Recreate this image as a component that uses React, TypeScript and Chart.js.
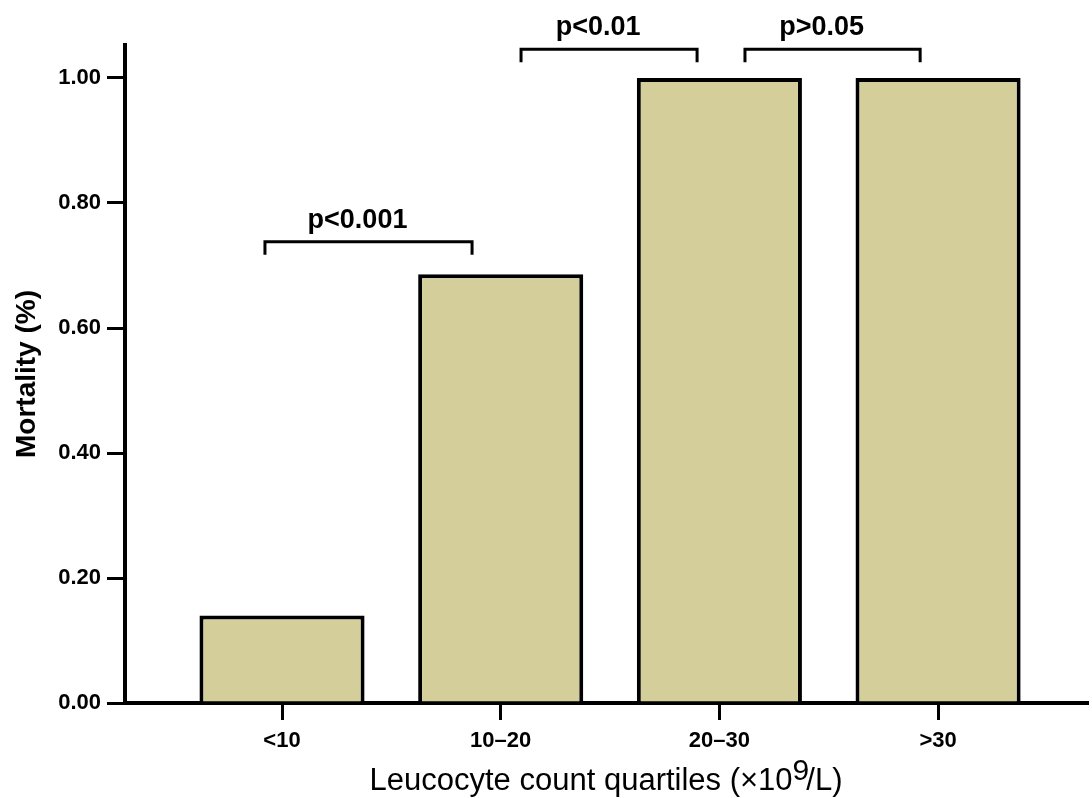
import React, { useEffect, useRef } from "react";
import { Chart, registerables } from "chart.js";

Chart.register(...registerables);

const categories = ["<10", "10–20", "20–30", ">30"];
const mortality = [0.14, 0.686, 1.0, 1.0];
const yTicks = [0, 0.2, 0.4, 0.6, 0.8, 1.0];

const bracketLabels = ["p<0.001", "p<0.01", "p>0.05"];
const bracketStart = [0.922, 2.093, 3.117];
const bracketEnd = [1.869, 2.898, 3.918];
const bracketLevel = [0.738, 1.046, 1.046];

const xTitleMain = "Leucocyte count quartiles (×10";
const xTitleSup = "9";
const xTitleEnd = "/L)";

const FONT = "'Liberation Sans', Arial, Helvetica, sans-serif";

const bracketPlugin = {
  id: "brackets",
  afterDatasetsDraw(chart: any) {
    const { ctx } = chart;
    const x = chart.scales.x;
    const y = chart.scales.y;
    ctx.save();
    ctx.strokeStyle = "#000";
    ctx.fillStyle = "#000";
    ctx.lineWidth = 3;
    ctx.lineJoin = "miter";
    ctx.font = `bold 27px ${FONT}`;
    ctx.textAlign = "center";
    ctx.textBaseline = "alphabetic";
    bracketLabels.forEach((label, i) => {
      const x1 = x.getPixelForValue(bracketStart[i]);
      const x2 = x.getPixelForValue(bracketEnd[i]);
      const yy = y.getPixelForValue(bracketLevel[i]);
      ctx.beginPath();
      ctx.moveTo(x1, yy + 13);
      ctx.lineTo(x1, yy);
      ctx.lineTo(x2, yy);
      ctx.lineTo(x2, yy + 13);
      ctx.stroke();
      ctx.fillText(label, (x1 + x2) / 2 - 11, yy - 14);
    });
    ctx.restore();
  },
};

const xTitlePlugin = {
  id: "xTitle",
  afterDraw(chart: any) {
    const { ctx, chartArea } = chart;
    ctx.save();
    ctx.fillStyle = "#000";
    ctx.textAlign = "left";
    ctx.textBaseline = "alphabetic";
    const mainFont = `31px ${FONT}`;
    const supFont = `30px ${FONT}`;
    ctx.font = mainFont;
    const w1 = ctx.measureText(xTitleMain).width;
    const w3 = ctx.measureText(xTitleEnd).width;
    ctx.font = supFont;
    const w2 = ctx.measureText(xTitleSup).width;
    const kern = -3;
    const total = w1 + w2 + w3 + kern;
    const cx = (chartArea.left + chartArea.right) / 2;
    let px = cx - total / 2;
    const baseY = 790;
    ctx.font = mainFont;
    ctx.fillText(xTitleMain, px, baseY);
    px += w1;
    ctx.font = supFont;
    ctx.fillText(xTitleSup, px, baseY - 10);
    px += w2 + kern;
    ctx.font = mainFont;
    ctx.fillText(xTitleEnd, px, baseY);
    ctx.restore();
  },
};

export default function App() {
  const ref = useRef<HTMLCanvasElement>(null);

  useEffect(() => {
    if (!ref.current) return;
    const chart = new Chart(ref.current, {
      type: "bar",
      data: {
        datasets: [
          {
            data: categories.map((_, i) => ({ x: i + 1, y: mortality[i] })),
            backgroundColor: "rgb(212, 207, 154)",
            borderColor: "#000",
            borderWidth: 4,
            barPercentage: 0.755,
            categoryPercentage: 1,
          },
        ],
      },
      options: {
        responsive: false,
        animation: false,
        layout: { padding: { top: 45, right: 5, left: 0, bottom: 0 } },
        plugins: {
          legend: { display: false },
          tooltip: { enabled: false },
        },
        scales: {
          x: {
            type: "linear",
            offset: false,
            min: 0.282,
            max: 4.681,
            afterBuildTicks: (scale: any) => {
              scale.ticks = categories.map((_, i) => ({ value: i + 1 }));
            },
            afterFit: (scale: any) => {
              scale.height = 95;
            },
            grid: {
              offset: false,
              drawOnChartArea: false,
              drawTicks: true,
              tickLength: 17,
              lineWidth: 3,
              color: "#000",
            },
            border: { display: true, color: "#000", width: 4 },
            ticks: {
              color: "#000",
              padding: 8,
              font: { family: FONT, size: 22, weight: "bold" },
              callback: (v: any) => categories[Math.round(v) - 1] ?? "",
              maxRotation: 0,
              autoSkip: false,
            },
            title: { display: false },
          },
          y: {
            type: "linear",
            min: 0,
            max: 1.0528,
            afterBuildTicks: (scale: any) => {
              scale.ticks = yTicks.map((v) => ({ value: v }));
            },
            afterFit: (scale: any) => {
              scale.width = 125;
            },
            grid: {
              drawOnChartArea: false,
              drawTicks: true,
              tickLength: 18,
              lineWidth: 3,
              color: "#000",
            },
            border: { display: true, color: "#000", width: 4 },
            ticks: {
              color: "#000",
              padding: 6,
              font: { family: FONT, size: 22, weight: "bold" },
              callback: (v: any) => Number(v).toFixed(2),
            },
            title: {
              display: true,
              text: "Mortality (%)",
              color: "#000",
              font: { family: FONT, size: 28, weight: "bold" },
              padding: { top: 10, bottom: 0 },
            },
          },
        },
      },
      plugins: [bracketPlugin, xTitlePlugin],
    } as any);
    return () => chart.destroy();
  }, []);

  return (
    <div style={{ position: "absolute", left: 0, top: 0, width: 1092, height: 798, background: "#fff" }}>
      <canvas ref={ref} width={1092} height={798} style={{ display: "block" }} />
    </div>
  );
}
